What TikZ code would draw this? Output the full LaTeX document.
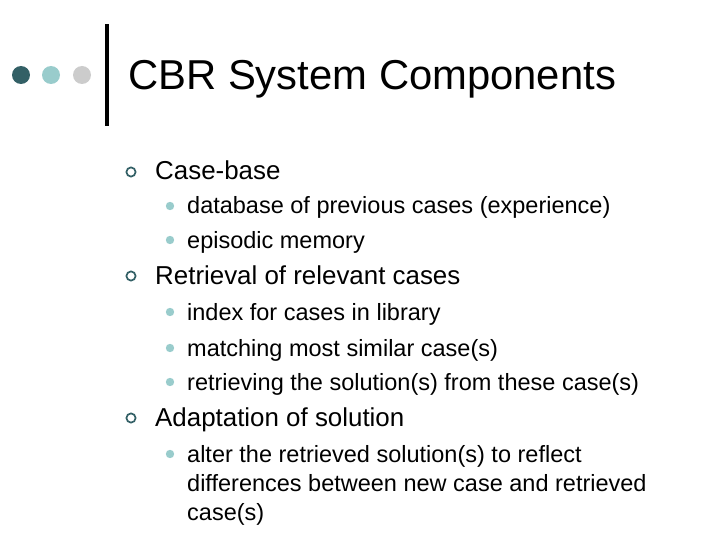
\documentclass[tikz,border=0pt]{standalone}
\usepackage{fontspec}
\setmainfont{Liberation Sans}
\definecolor{dk}{HTML}{336066}
\definecolor{lt}{HTML}{99CCCC}
\definecolor{gr}{HTML}{CCCCCC}
\begin{document}
\begin{tikzpicture}[x=1pt,y=-1pt,
  t1/.style={anchor=base west,font=\fontsize{25.9}{30}\selectfont,inner sep=0},
  t2/.style={anchor=base west,font=\fontsize{23.5}{28}\selectfont,inner sep=0,align=left}]
\useasboundingbox (0,0) rectangle (720,540);
\fill[dk] (21,75) circle (9);
\fill[lt] (51,75) circle (9);
\fill[gr] (82,75) circle (9);
\fill[black] (105,24) rectangle (109,126);
\node[anchor=base west,inner sep=0,font=\fontsize{41.8}{48}\selectfont] (title) at (128,90) {CBR System Components};
\foreach \y/\n/\s in {180/a/Case-base,284/b/Retrieval of relevant cases,426/c/Adaptation of solution}{
  \draw[dk,line width=1.7] (131,{\y-8}) circle (4.6);
  \node[t1] (\n) at (155,\y) {\s};
}
\foreach \y/\n/\s in {214/a1/database of previous cases (experience),248/a2/episodic memory,320/b1/index for cases in library,356/b2/matching most similar case(s),390/b3/retrieving the solution(s) from these case(s),462/c1/alter the retrieved solution(s) to reflect}{
  \fill[lt] (170,{\y-8}) circle (4.2);
  \node[t2] (\n) at (187,\y) {\s};
}
\node[t2] (c2) at (187,491) {differences between new case and retrieved};
\node[t2] (c3) at (187,520) {case(s)};
\end{tikzpicture}
\end{document}
